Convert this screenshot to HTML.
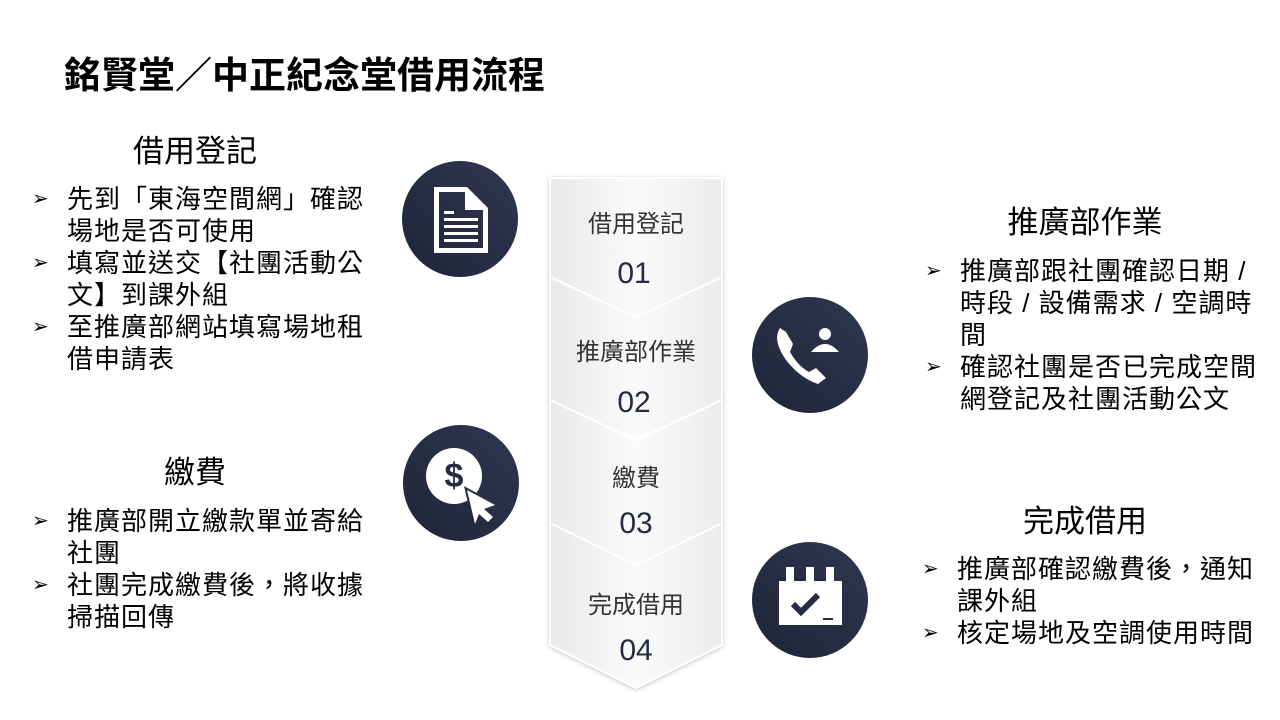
<!DOCTYPE html>
<html><head><meta charset="utf-8"><style>
body{margin:0;width:1280px;height:720px;background:#fff;position:relative;overflow:hidden;font-family:"Liberation Sans","Noto Sans CJK TC",sans-serif;color:#000}
.t{position:absolute;font-size:31px;line-height:40px;text-align:center}
.b{position:absolute;font-size:26px;letter-spacing:1px;line-height:32px;white-space:nowrap}
.b div{position:relative;padding-left:35px}
.b div:before{content:"➢";position:absolute;left:0;font-size:20px;top:0}
</style></head><body>
<div style="position:absolute;left:64px;top:45px;font-size:37px;font-weight:bold;letter-spacing:0">銘賢堂／中正紀念堂借用流程</div>
<div class="t" style="left:95px;top:132px;width:200px">借用登記</div>
<div class="b" style="left:32px;top:183px"><div>先到「東海空間網」確認<br>場地是否可使用</div><div>填寫並送交【社團活動公<br>文】到課外組</div><div>至推廣部網站填寫場地租<br>借申請表</div></div>
<div class="t" style="left:95px;top:453px;width:200px">繳費</div>
<div class="b" style="left:32px;top:505px"><div>推廣部開立繳款單並寄給<br>社團</div><div>社團完成繳費後，將收據<br>掃描回傳</div></div>
<div class="t" style="left:985px;top:203px;width:200px">推廣部作業</div>
<div class="b" style="left:925px;top:255px"><div>推廣部跟社團確認日期 /<br>時段 / 設備需求 / 空調時<br>間</div><div>確認社團是否已完成空間<br>網登記及社團活動公文</div></div>
<div class="t" style="left:985px;top:502px;width:200px">完成借用</div>
<div class="b" style="left:922px;top:553px"><div>推廣部確認繳費後，通知<br>課外組</div><div>核定場地及空調使用時間</div></div>
<svg width="1280" height="720" style="position:absolute;left:0;top:0">
<defs><linearGradient id="g" x1="0" x2="1"><stop offset="0" stop-color="#e9e9e9"/><stop offset=".5" stop-color="#fafafa"/><stop offset="1" stop-color="#ececec"/></linearGradient>
<linearGradient id="c" x1="0" x2="1" y1="1" y2="0"><stop offset="0" stop-color="#1f2538"/><stop offset="1" stop-color="#2f3650"/></linearGradient>
<filter id="s"><feDropShadow dx="0" dy="1" stdDeviation="2" flood-opacity=".25"/></filter></defs>
<g filter="url(#s)" fill="url(#g)" stroke="#fff" stroke-width="2">
<path d="M550 520 L636 560 L722 520 L722 645 L636 688 L550 645Z"/>
<path d="M550 400 L636 440 L722 400 L722 523 L636 565 L550 523Z"/>
<path d="M550 277 L636 317 L722 277 L722 400 L636 440 L550 400Z"/>
<path d="M550 178 L722 178 L722 277 L636 317 L550 277Z"/>
</g>
<g font-size="24" fill="#333" text-anchor="middle"><text x="636" y="232">借用登記</text><text x="636" y="360">推廣部作業</text><text x="636" y="486">繳費</text><text x="636" y="613">完成借用</text></g>
<g font-size="30" fill="#252b40" text-anchor="middle"><text x="634" y="283">01</text><text x="634" y="412">02</text><text x="636" y="533">03</text><text x="636" y="660">04</text></g>
<g fill="url(#c)"><circle cx="460" cy="219" r="58"/><circle cx="810" cy="355" r="58"/><circle cx="461" cy="483" r="58"/><circle cx="810" cy="600" r="58"/></g>
<g fill="#fff">
<path d="M434 187 H467 L488 208 V253 H434Z M439 192 V248 H483 V210 H465 V192Z"/>
<rect x="444" y="211" width="10" height="3"/><rect x="444" y="218" width="34" height="3"/><rect x="444" y="225" width="34" height="3"/><rect x="444" y="232" width="34" height="3"/><rect x="444" y="239" width="34" height="3"/>
<circle cx="454" cy="476" r="28"/>
<path d="M467 490 L495 505 L484 509 L493 517 L488 522 L479 514 L475 524Z" stroke="url(#c)" stroke-width="4"/>
<path d="M467 490 L495 505 L484 509 L493 517 L488 522 L479 514 L475 524Z"/>
<circle cx="825" cy="334" r="6"/><path d="M811 352 Q825 336 839 352Z"/>
<path d="M780 328 Q772 340 786 360 Q800 378 818 384 L826 378 L816 368 L809 372 Q798 366 790 352 L793 344 L786 332Z"/>
<rect x="779" y="573" width="63" height="52"/>
</g>
<g fill="url(#c)"><text x="454" y="487" font-size="34" font-weight="bold" text-anchor="middle" fill="#252b40">$</text>
<rect x="779" y="573" width="63" height="8"/><rect x="786" y="567" width="8" height="14" fill="#fff"/><rect x="806" y="567" width="8" height="14" fill="#fff"/><rect x="826" y="567" width="8" height="14" fill="#fff"/>
<path d="M793 604 L801 612 L818 595" stroke="#252b40" stroke-width="6" fill="none"/><rect x="823" y="618" width="10" height="2"/></g>
<rect x="779" y="581" width="63" height="3" fill="#fff"/>
</svg>
</body></html>
